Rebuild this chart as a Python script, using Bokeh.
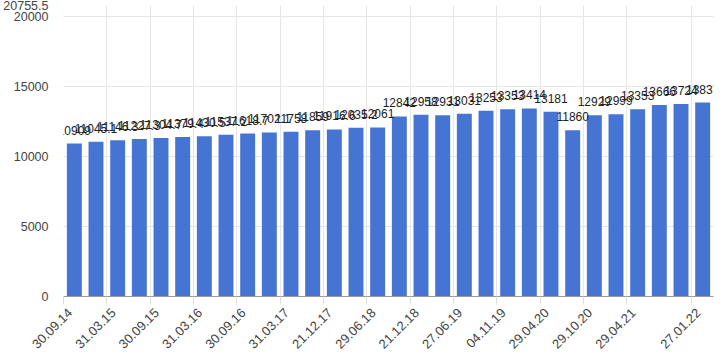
import math
from bokeh.plotting import figure
from bokeh.models import ColumnDataSource, FixedTicker, Range1d, Label
from bokeh.embed import file_html
from bokeh.resources import INLINE

values = [10909, 11045.12, 11146.3, 11227.3, 11304.67, 11379.43, 11430.53, 11537.16,
          11618.7, 11702.1, 11758, 11859, 11916.63, 12035.2, 12061.04,
          12842, 12958, 12931, 13031, 13253, 13353, 13414, 13181, 11860,
          12929, 12999, 13353, 13666, 13724, 13837]
tick_pos = [0, 2, 4, 6, 8, 10, 12, 14, 16, 18, 20, 22, 24, 26, 29]
tick_labels = ["30.09.14", "31.03.15", "30.09.15", "31.03.16", "30.09.16", "31.03.17",
               "21.12.17", "29.06.18", "21.12.18", "27.06.19", "04.11.19", "29.04.20",
               "29.10.20", "29.04.21", "27.01.22"]
y_max = 20755.5
y_ticks = [0, 5000, 10000, 15000, 20000, 20755.5]

xs = [i + 0.5 for i in range(len(values))]
labels = [("%g" % v) for v in values]
src = ColumnDataSource(dict(x=xs, top=values, label=labels))

FONT = "Liberation Sans"
p = figure(width=720, height=360, output_backend="svg", toolbar_location=None,
           x_range=Range1d(0, len(values)), y_range=Range1d(0, y_max),
           min_border_left=59, min_border_right=7, min_border_top=5, min_border_bottom=64)
p.outline_line_color = None
p.background_fill_color = "white"

p.vbar(x="x", top="top", width=0.69, source=src, fill_color="#4674d3", line_color=None)
for x, top, lab in zip(xs, values, labels):
    p.add_layout(Label(x=x, y=top, text=lab, text_align="center", text_baseline="bottom",
                       y_offset=9, text_font=FONT, text_font_size="12px",
                       text_color="#222222"))

shift = 0.3
label_ticks = [t + shift for t in tick_pos]
p.xaxis.ticker = FixedTicker(ticks=label_ticks, minor_ticks=tick_pos)
p.xaxis.major_label_overrides = {t: l for t, l in zip(label_ticks, tick_labels)}
p.xaxis.major_label_orientation = math.pi / 4
p.xaxis.major_label_text_font = FONT
p.xaxis.major_label_text_font_size = "13px"
p.xaxis.major_label_text_color = "#444444"
p.xaxis.axis_line_color = "#999999"
p.xaxis.major_tick_line_color = None
p.xaxis.major_tick_out = 6
p.xaxis.minor_tick_line_color = "#dddddd"
p.xaxis.minor_tick_out = 8
p.xaxis.minor_tick_in = 0
p.xaxis.major_label_standoff = 6

p.yaxis.ticker = FixedTicker(ticks=y_ticks)
p.yaxis.major_label_overrides = {t: ("%g" % t) for t in y_ticks}
p.yaxis.major_label_text_font = FONT
p.yaxis.major_label_text_font_size = "12.5px"
p.yaxis.major_label_text_color = "#444444"
p.yaxis.axis_line_color = None
p.yaxis.major_tick_line_color = None
p.yaxis.minor_tick_line_color = None
p.yaxis.major_label_standoff = 9

p.xgrid.ticker = FixedTicker(ticks=tick_pos)
p.xgrid.grid_line_color = "#e6e6e6"
p.ygrid.grid_line_color = "#e6e6e6"

open("out.html", "w").write(file_html(p, INLINE))
